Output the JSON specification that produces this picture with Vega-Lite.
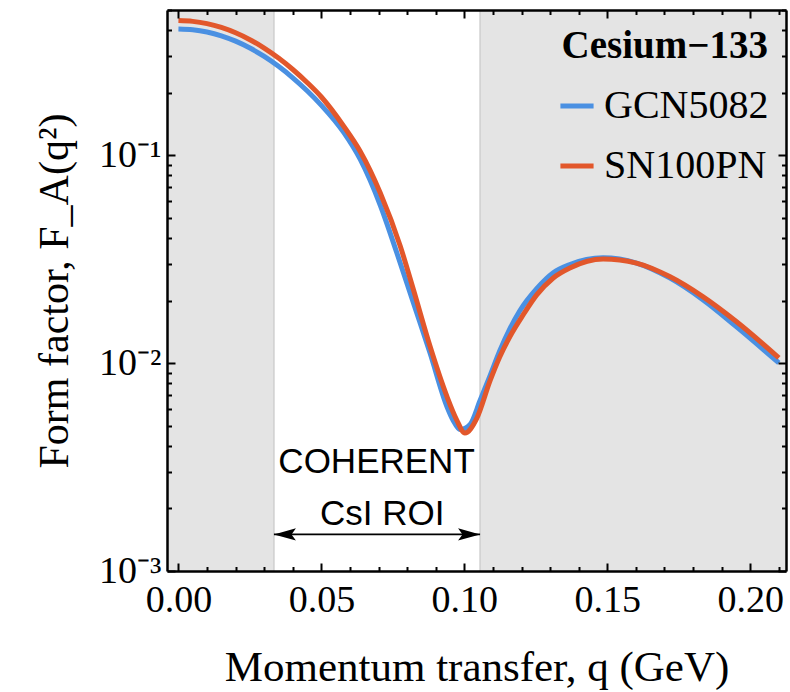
{
  "$schema": "https://vega.github.io/schema/vega-lite/v6.json",
  "width": 619,
  "height": 561,
  "autosize": {"type": "none"},
  "padding": {"left": 167, "top": 10, "right": 4, "bottom": 121},
  "background": "white",
  "config": {"view": {"stroke": null}, "font": "Liberation Serif"},
  "datasets": {
    "curves": [
      {"model": "GCN5082", "q": 0.0, "f": 0.4055},
      {"model": "GCN5082", "q": 0.005, "f": 0.402},
      {"model": "GCN5082", "q": 0.01, "f": 0.392},
      {"model": "GCN5082", "q": 0.015, "f": 0.3757},
      {"model": "GCN5082", "q": 0.02, "f": 0.354},
      {"model": "GCN5082", "q": 0.025, "f": 0.3281},
      {"model": "GCN5082", "q": 0.03, "f": 0.299},
      {"model": "GCN5082", "q": 0.035, "f": 0.2679},
      {"model": "GCN5082", "q": 0.04, "f": 0.2359},
      {"model": "GCN5082", "q": 0.045, "f": 0.2043},
      {"model": "GCN5082", "q": 0.05, "f": 0.1739},
      {"model": "GCN5082", "q": 0.0578, "f": 0.1288},
      {"model": "GCN5082", "q": 0.0636, "f": 0.0955},
      {"model": "GCN5082", "q": 0.0706, "f": 0.0575},
      {"model": "GCN5082", "q": 0.0764, "f": 0.0339},
      {"model": "GCN5082", "q": 0.0822, "f": 0.01945},
      {"model": "GCN5082", "q": 0.088, "f": 0.01119},
      {"model": "GCN5082", "q": 0.0939, "f": 0.00619},
      {"model": "GCN5082", "q": 0.0961, "f": 0.0053},
      {"model": "GCN5082", "q": 0.0985, "f": 0.00479},
      {"model": "GCN5082", "q": 0.102, "f": 0.00507},
      {"model": "GCN5082", "q": 0.1055, "f": 0.00661},
      {"model": "GCN5082", "q": 0.109, "f": 0.00871},
      {"model": "GCN5082", "q": 0.1124, "f": 0.01148},
      {"model": "GCN5082", "q": 0.1159, "f": 0.01462},
      {"model": "GCN5082", "q": 0.1194, "f": 0.01786},
      {"model": "GCN5082", "q": 0.1253, "f": 0.0228},
      {"model": "GCN5082", "q": 0.1311, "f": 0.0272},
      {"model": "GCN5082", "q": 0.1369, "f": 0.0298},
      {"model": "GCN5082", "q": 0.1485, "f": 0.0321},
      {"model": "GCN5082", "q": 0.1602, "f": 0.0303},
      {"model": "GCN5082", "q": 0.1718, "f": 0.0257},
      {"model": "GCN5082", "q": 0.1834, "f": 0.0202},
      {"model": "GCN5082", "q": 0.195, "f": 0.01504},
      {"model": "GCN5082", "q": 0.21, "f": 0.01002},
      {"model": "SN100PN", "q": 0.0, "f": 0.4446},
      {"model": "SN100PN", "q": 0.005, "f": 0.4408},
      {"model": "SN100PN", "q": 0.01, "f": 0.4298},
      {"model": "SN100PN", "q": 0.015, "f": 0.412},
      {"model": "SN100PN", "q": 0.02, "f": 0.3883},
      {"model": "SN100PN", "q": 0.025, "f": 0.3597},
      {"model": "SN100PN", "q": 0.03, "f": 0.3279},
      {"model": "SN100PN", "q": 0.035, "f": 0.2937},
      {"model": "SN100PN", "q": 0.04, "f": 0.2587},
      {"model": "SN100PN", "q": 0.045, "f": 0.224},
      {"model": "SN100PN", "q": 0.05, "f": 0.1907},
      {"model": "SN100PN", "q": 0.0578, "f": 0.138},
      {"model": "SN100PN", "q": 0.0636, "f": 0.1042},
      {"model": "SN100PN", "q": 0.0706, "f": 0.0658},
      {"model": "SN100PN", "q": 0.0776, "f": 0.0365},
      {"model": "SN100PN", "q": 0.0822, "f": 0.02254},
      {"model": "SN100PN", "q": 0.088, "f": 0.01205},
      {"model": "SN100PN", "q": 0.0939, "f": 0.00692},
      {"model": "SN100PN", "q": 0.0973, "f": 0.00534},
      {"model": "SN100PN", "q": 0.1002, "f": 0.00461},
      {"model": "SN100PN", "q": 0.1043, "f": 0.00541},
      {"model": "SN100PN", "q": 0.109, "f": 0.00824},
      {"model": "SN100PN", "q": 0.1124, "f": 0.01074},
      {"model": "SN100PN", "q": 0.1159, "f": 0.0134},
      {"model": "SN100PN", "q": 0.1206, "f": 0.0171},
      {"model": "SN100PN", "q": 0.1253, "f": 0.0213},
      {"model": "SN100PN", "q": 0.1311, "f": 0.0257},
      {"model": "SN100PN", "q": 0.1369, "f": 0.0287},
      {"model": "SN100PN", "q": 0.1485, "f": 0.0317},
      {"model": "SN100PN", "q": 0.1602, "f": 0.0303},
      {"model": "SN100PN", "q": 0.1718, "f": 0.0261},
      {"model": "SN100PN", "q": 0.1834, "f": 0.0209},
      {"model": "SN100PN", "q": 0.195, "f": 0.0159},
      {"model": "SN100PN", "q": 0.21, "f": 0.0106}
    ],
    "bands": [{"x0": -0.004, "x1": 0.0334}, {"x0": 0.1055, "x1": 0.2125}],
    "edges": [{"q": 0.0334}, {"q": 0.1055}],
    "roi": [{"q0": 0.0334, "q1": 0.1055, "f": 0.0015}],
    "heads": [{"q": 0.0334, "f": 0.0015, "side": "left"}, {"q": 0.1055, "f": 0.0015, "side": "right"}],
    "notes": [{"q": 0.0693, "f": 0.00336, "t": "COHERENT"}, {"q": 0.0713, "f": 0.00187, "t": "CsI ROI"}]
  },
  "layer": [
    {
      "data": {"name": "bands"},
      "mark": {"type": "rect", "color": "#e4e4e4"},
      "encoding": {
        "x": {"field": "x0", "type": "quantitative", "scale": {"domain": [-0.004, 0.2125], "nice": false, "zero": false}, "axis": null},
        "x2": {"field": "x1"}
      }
    },
    {
      "data": {"name": "edges"},
      "mark": {"type": "rule", "color": "#cfcfcf", "strokeWidth": 1.5},
      "encoding": {
        "x": {"field": "q", "type": "quantitative", "axis": null}
      }
    },
    {
      "data": {"name": "curves"},
      "mark": {"type": "line", "strokeWidth": 5, "interpolate": "monotone"},
      "encoding": {
        "x": {
          "field": "q", "type": "quantitative",
          "scale": {"domain": [-0.004, 0.2125], "nice": false, "zero": false},
          "axis": {
            "orient": "bottom", "zindex": 1,
            "values": [0, 0.01, 0.02, 0.03, 0.04, 0.05, 0.06, 0.07, 0.08, 0.09, 0.1, 0.11, 0.12, 0.13, 0.14, 0.15, 0.16, 0.17, 0.18, 0.19, 0.2, 0.21],
            "labelExpr": "abs(datum.value*20 - round(datum.value*20)) < 1e-6 ? format(datum.value, '.2f') : ''",
            "tickSize": {"condition": {"test": "abs(datum.value*20 - round(datum.value*20)) < 1e-6", "value": -8}, "value": -4.5},
            "tickColor": "black", "tickWidth": 2,
            "domainColor": "black", "domainWidth": 2.5,
            "grid": false, "labelOverlap": false, "labelFlush": false,
            "labelFont": "Liberation Serif", "labelFontSize": 38, "labelColor": "black", "labelPadding": 18,
            "title": "Momentum transfer, q (GeV)", "titleFont": "Liberation Serif", "titleFontSize": 43,
            "titleFontWeight": "normal", "titleColor": "black", "titlePadding": 24
          }
        },
        "y": {
          "field": "f", "type": "quantitative",
          "scale": {"type": "log", "domain": [0.001, 0.5], "nice": false},
          "axis": {
            "orient": "left", "zindex": 1,
            "values": [0.001, 0.002, 0.003, 0.004, 0.005, 0.006, 0.007, 0.008, 0.009, 0.01, 0.02, 0.03, 0.04, 0.05, 0.06, 0.07, 0.08, 0.09, 0.1, 0.2, 0.3, 0.4, 0.5],
            "labelExpr": "abs(datum.value-0.1)<1e-9 ? '10⁻¹' : abs(datum.value-0.01)<1e-9 ? '10⁻²' : abs(datum.value-0.001)<1e-9 ? '10⁻³' : ''",
            "tickSize": {"condition": {"test": "abs(log(datum.value)/LN10 - round(log(datum.value)/LN10)) < 1e-6", "value": -8}, "value": -4.5},
            "tickColor": "black", "tickWidth": 2,
            "domainColor": "black", "domainWidth": 2.5,
            "grid": false, "labelOverlap": false, "labelFlush": false,
            "labelFont": "Liberation Serif", "labelFontSize": 38, "labelColor": "black", "labelPadding": 14,
            "title": "Form factor, F_A(q²)", "titleFont": "Liberation Serif", "titleFontSize": 42,
            "titleFontWeight": "normal", "titleColor": "black", "titlePadding": 22
          }
        },
        "color": {
          "field": "model", "type": "nominal",
          "scale": {"domain": ["GCN5082", "SN100PN"], "range": ["#4A90E2", "#E2572B"]},
          "legend": {
            "title": "Cesium−133", "orient": "top-right", "offset": 17, "padding": 0,
            "titleFont": "Liberation Serif", "titleFontSize": 39, "titleFontWeight": "bold", "titleColor": "black",
            "titleAnchor": "end", "titlePadding": 20, "titleLimit": 400,
            "labelFont": "Liberation Serif", "labelFontSize": 40, "labelColor": "black", "labelLimit": 400, "labelOffset": 7,
            "symbolType": "stroke", "symbolStrokeWidth": 5, "symbolSize": 1100, "rowPadding": 20
          }
        }
      }
    },
    {
      "data": {"name": "roi"},
      "mark": {"type": "rule", "color": "black", "strokeWidth": 1.8},
      "encoding": {
        "x": {
          "field": "q0", "type": "quantitative",
          "axis": {
            "orient": "top", "zindex": 1, "labels": false, "title": null,
            "values": [0, 0.01, 0.02, 0.03, 0.04, 0.05, 0.06, 0.07, 0.08, 0.09, 0.1, 0.11, 0.12, 0.13, 0.14, 0.15, 0.16, 0.17, 0.18, 0.19, 0.2, 0.21],
            "tickSize": {"condition": {"test": "abs(datum.value*20 - round(datum.value*20)) < 1e-6", "value": -8}, "value": -4.5},
            "tickColor": "black", "tickWidth": 2, "domainColor": "black", "domainWidth": 2.5, "grid": false
          }
        },
        "x2": {"field": "q1"},
        "y": {
          "field": "f", "type": "quantitative",
          "axis": {
            "orient": "right", "zindex": 1, "labels": false, "title": null,
            "values": [0.001, 0.002, 0.003, 0.004, 0.005, 0.006, 0.007, 0.008, 0.009, 0.01, 0.02, 0.03, 0.04, 0.05, 0.06, 0.07, 0.08, 0.09, 0.1, 0.2, 0.3, 0.4, 0.5],
            "tickSize": {"condition": {"test": "abs(log(datum.value)/LN10 - round(log(datum.value)/LN10)) < 1e-6", "value": -8}, "value": -4.5},
            "tickColor": "black", "tickWidth": 2, "domainColor": "black", "domainWidth": 2.5, "grid": false
          }
        }
      }
    },
    {
      "data": {"name": "heads"},
      "mark": {"type": "point", "filled": true, "color": "black", "opacity": 1, "size": 484, "strokeWidth": 0},
      "encoding": {
        "x": {"field": "q", "type": "quantitative", "axis": null},
        "y": {"field": "f", "type": "quantitative", "axis": null},
        "shape": {
          "field": "side", "type": "nominal", "legend": null,
          "scale": {"domain": ["left", "right"], "range": ["M0,0L2,-0.55L1.6,0L2,0.55Z", "M0,0L-2,-0.55L-1.6,0L-2,0.55Z"]}
        }
      }
    },
    {
      "data": {"name": "notes"},
      "mark": {"type": "text", "font": "Liberation Sans", "fontSize": 35, "color": "black", "align": "center", "baseline": "middle"},
      "encoding": {
        "x": {"field": "q", "type": "quantitative", "axis": null},
        "y": {"field": "f", "type": "quantitative", "axis": null},
        "text": {"field": "t"}
      }
    }
  ],
  "resolve": {"axis": {"x": "independent", "y": "independent"}}
}
